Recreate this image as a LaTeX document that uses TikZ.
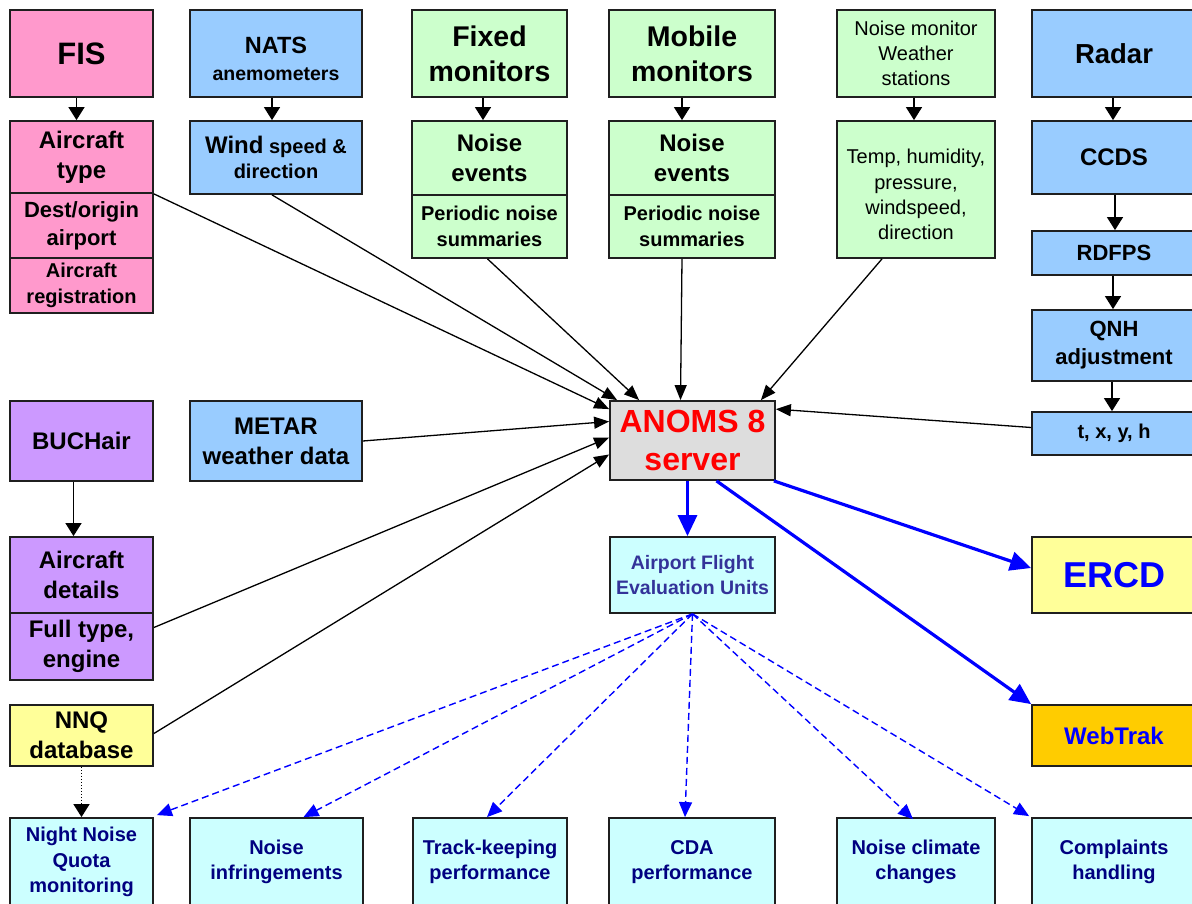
\documentclass[tikz,border=0pt]{standalone}
\usepackage{fontspec}
\setmainfont{Liberation Sans}
\usetikzlibrary{arrows.meta,calc}
\definecolor{cpink}{HTML}{FF99CC}
\definecolor{cblue}{HTML}{99CCFF}
\definecolor{cgreen}{HTML}{CCFFCC}
\definecolor{cpurple}{HTML}{CC99FF}
\definecolor{cyellow}{HTML}{FFFF99}
\definecolor{ccyan}{HTML}{CCFFFF}
\definecolor{corange}{HTML}{FFCC00}
\definecolor{cgray}{HTML}{DDDDDD}
\definecolor{cnavy}{HTML}{000080}
\definecolor{cslate}{HTML}{333399}
\definecolor{cred}{HTML}{FF0000}
\definecolor{cbright}{HTML}{0000FF}
\begin{document}
\begin{tikzpicture}[x=1pt,y=-1pt,
  box/.style={draw=black!88, line width=1.8pt, inner sep=2pt, align=center, text=black},
  fA/.style={font=\fontsize{31}{37}\selectfont\bfseries},
  fB/.style={font=\fontsize{28.5}{35}\selectfont\bfseries},
  fC/.style={font=\fontsize{24}{30}\selectfont\bfseries},
  fD/.style={font=\fontsize{22}{28}\selectfont\bfseries},
  fE/.style={font=\fontsize{20}{25.5}\selectfont\bfseries},
  fR/.style={font=\fontsize{20}{25.3}\selectfont},
  fG/.style={font=\fontsize{32}{38}\selectfont\bfseries},
  conn/.style={draw=black, line width=1.3pt, -{Triangle[length=15pt,width=12pt]}},
  shortarr/.style={draw=black, line width=1.3pt, -{Triangle[length=13pt,width=16pt]}},
  bluearr/.style={draw=cbright, line width=3.2pt, -{Triangle[length=21pt,width=19pt]}},
  dasharr/.style={draw=cbright, line width=1.4pt, dash pattern=on 7pt off 4pt, -{Triangle[length=15pt,width=13pt]}},
]
\path[use as bounding box] (0,0) rectangle (1192,904);
\clip (0,0) rectangle (1192,904);
\fill[white] (0,0) rectangle (1192,904);

% ---- top row sources ----
\node[box,fill=cpink,minimum width=143,minimum height=87,fA] (fis) at (81.5,53.5) {FIS};
\node[box,fill=cpink,minimum width=143,minimum height=72,fC] (actype) at (81.5,157) {Aircraft\\type};
\node[box,fill=cpink,minimum width=143,minimum height=65,fD] (dest) at (81.5,225.5) {Dest/origin\\airport};
\node[box,fill=cpink,minimum width=143,minimum height=55,fE] (reg) at (81.5,285.5) {Aircraft\\registration};

\node[box,fill=cblue,minimum width=172,minimum height=87,font=\fontsize{19.5}{27}\selectfont\bfseries] (nats) at (276,53.5) {\rule{0pt}{27pt}{\fontsize{23.5}{28}\selectfont NATS}\\anemometers};
\node[box,fill=cblue,minimum width=172,minimum height=73,fE] (wind) at (276,157.5) {{\fontsize{24}{28}\selectfont Wind} speed \&\\direction};

\node[box,fill=cgreen,minimum width=155,minimum height=87,fB] (fixed) at (489.5,53.5) {Fixed\\monitors};
\node[box,fill=cgreen,minimum width=155,minimum height=74,fC] (fev) at (489.5,158) {Noise\\events};
\node[box,fill=cgreen,minimum width=155,minimum height=63,fE] (fsum) at (489.5,226.5) {Periodic noise\\summaries};

\node[box,fill=cgreen,minimum width=166,minimum height=87,fB] (mobile) at (692,53.5) {Mobile\\monitors};
\node[box,fill=cgreen,minimum width=166,minimum height=74,fC] (mev) at (692,158) {Noise\\events};
\node[box,fill=cgreen,minimum width=166,minimum height=63,fE] (msum) at (692,226.5) {Periodic noise\\summaries};

\node[box,fill=cgreen,minimum width=158,minimum height=87,fR] (nmon) at (916,53.5) {Noise monitor\\Weather\\stations};
\node[box,fill=cgreen,minimum width=158,minimum height=137,fR] (temp) at (916,189.5) {\rule{0pt}{25pt}Temp, humidity,\\pressure,\\windspeed,\\direction};

\node[box,fill=cblue,minimum width=164,minimum height=87,font=\fontsize{27.5}{33}\selectfont\bfseries] (radar) at (1114,53.5) {Radar};
\node[box,fill=cblue,minimum width=164,minimum height=73,fC] (ccds) at (1114,157.5) {CCDS};
\node[box,fill=cblue,minimum width=164,minimum height=44,fD] (rdfps) at (1114,253) {RDFPS};
\node[box,fill=cblue,minimum width=164,minimum height=71,fD] (qnh) at (1114,345.5) {QNH\\adjustment};
\node[box,fill=cblue,minimum width=164,minimum height=43,fE] (txyh) at (1114,433.5) {t, x, y, h};

% ---- middle left ----
\node[box,fill=cpurple,minimum width=143,minimum height=80,fC] (buch) at (81.5,441) {BUCHair};
\node[box,fill=cblue,minimum width=172,minimum height=80,fC] (metar) at (276,441) {METAR\\weather data};
\node[box,fill=cpurple,minimum width=143,minimum height=76,fC] (acdet) at (81.5,575) {Aircraft\\details};
\node[box,fill=cpurple,minimum width=143,minimum height=67,fC] (fullt) at (81.5,646.5) {Full type,\\engine};
\node[box,fill=cyellow,minimum width=143,minimum height=61,fC] (nnq) at (81.5,735.5) {NNQ\\database};

% ---- server and outputs ----
\node[box,fill=cgray,minimum width=165,minimum height=79,fG,text=cred] (anoms) at (692.5,440.5) {ANOMS 8\\server};
\node[box,fill=ccyan,minimum width=165,minimum height=76,font=\fontsize{19.5}{25}\selectfont\bfseries,text=cslate] (afeu) at (692.5,575) {Airport Flight\\Evaluation Units};
\node[box,fill=cyellow,minimum width=164,minimum height=76,font=\fontsize{36}{42}\selectfont\bfseries,text=cbright] (ercd) at (1114,575) {ERCD};
\node[box,fill=corange,minimum width=164,minimum height=61,fC,text=cbright] (webtrak) at (1114,735.5) {WebTrak};

% ---- bottom row ----
\node[box,fill=ccyan,minimum width=143,minimum height=88,fE,text=cnavy] (nnqm) at (81.5,862) {Night Noise\\Quota\\monitoring};
\node[box,fill=ccyan,minimum width=173,minimum height=88,fE,text=cnavy] (ninf) at (276.5,862) {Noise\\infringements};
\node[box,fill=ccyan,minimum width=154,minimum height=88,fE,text=cnavy] (track) at (490,862) {Track-keeping\\performance};
\node[box,fill=ccyan,minimum width=166,minimum height=88,fE,text=cnavy] (cda) at (692,862) {CDA\\performance};
\node[box,fill=ccyan,minimum width=158,minimum height=88,fE,text=cnavy] (nclim) at (916,862) {Noise climate\\changes};
\node[box,fill=ccyan,minimum width=164,minimum height=88,fE,text=cnavy] (compl) at (1114,862) {Complaints\\handling};

% ---- short vertical arrows ----
\draw[shortarr] ([xshift=-5pt]fis.south) -- ([xshift=-5pt]actype.north);
\draw[shortarr] ([xshift=-4pt]nats.south) -- ([xshift=-4pt]wind.north);
\draw[shortarr] ([xshift=-6.5pt]fixed.south) -- ([xshift=-6.5pt]fev.north);
\draw[shortarr] ([xshift=-10pt]mobile.south) -- ([xshift=-10pt]mev.north);
\draw[shortarr] ([xshift=-2pt]nmon.south) -- ([xshift=-2pt]temp.north);
\draw[shortarr] ([xshift=-1pt]radar.south) -- ([xshift=-1pt]ccds.north);
\draw[shortarr] ([xshift=1pt]ccds.south) -- ([xshift=1pt]rdfps.north);
\draw[shortarr] ([xshift=-1pt]rdfps.south) -- ([xshift=-1pt]qnh.north);
\draw[shortarr] ([xshift=-2pt]qnh.south) -- ([xshift=-2pt]txyh.north);
\draw[shortarr] ([xshift=-8pt]buch.south) -- ([xshift=-8pt]acdet.north);
\draw[draw=black, line width=1.4pt, dash pattern=on 1.5pt off 1.5pt, -{Triangle[length=13pt,width=16pt]}] (nnq.south) -- (nnqm.north);

% ---- inputs to the server ----
\draw[conn] (actype.south east) -- ([yshift=-9pt]anoms.north west);
\draw[conn] ([xshift=-4pt]wind.south) -- ([xshift=8pt]anoms.north west);
\draw[conn] ([xshift=-2pt]fsum.south) -- ([xshift=30pt]anoms.north west);
\draw[conn] ([xshift=-10pt]msum.south) -- ([xshift=-12pt]anoms.north);
\draw[conn] ([xshift=-34pt]temp.south) -- ([xshift=-15pt]anoms.north east);
\draw[conn] ([yshift=6pt]txyh.west) -- ([yshift=-9pt]anoms.north east);
\draw[conn] (metar.east) -- ([yshift=19pt]anoms.west);
\draw[conn] ([yshift=19pt]fullt.east) -- ([yshift=3pt]anoms.west);
\draw[conn] ([yshift=2pt]nnq.east) -- ([yshift=-14pt]anoms.west);

% ---- outputs ----
\draw[bluearr] ([xshift=-5pt]anoms.south) -- ([xshift=-5pt]afeu.north);
\draw[bluearr] ([xshift=-2pt]anoms.south east) -- ([yshift=7pt]ercd.west);
\draw[bluearr] ([xshift=24pt]anoms.south) -- (webtrak.north west);

\draw[dasharr] (afeu.south) -- ([xshift=3pt,yshift=2pt]nnqm.north east);
\draw[dasharr] (afeu.south) -- ([xshift=27pt]ninf.north);
\draw[dasharr] (afeu.south) -- ([xshift=-3pt]track.north);
\draw[dasharr] (afeu.south) -- ([xshift=-7pt]cda.north);
\draw[dasharr] (afeu.south) -- ([xshift=-3pt,yshift=-2pt]nclim.north);
\draw[dasharr] (afeu.south) -- ([xshift=-2pt,yshift=1pt]compl.north west);
\end{tikzpicture}
\end{document}
